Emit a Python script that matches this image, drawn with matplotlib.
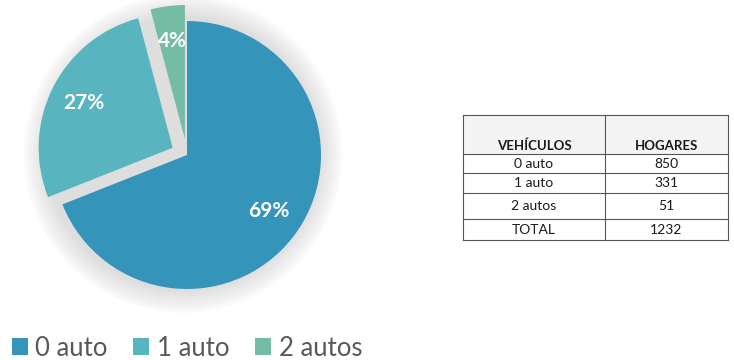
import matplotlib.pyplot as plt
from matplotlib.patches import Circle

# Households by number of vehicles
categories = ["0 auto", "1 auto", "2 autos"]
hogares = [850, 331, 51]
total = 1232
colors = ["#3594BA", "#58B4BF", "#74BDA4"]

table_header = ["VEHÍCULOS", "HOGARES"]
table_rows = [["0 auto", "850"], ["1 auto", "331"], ["2 autos", "51"], ["TOTAL", "1232"]]

plt.rcParams['font.family'] = ['Lato', 'DejaVu Sans']

W, H = 734, 360
fig = plt.figure(figsize=(W / 100, H / 100), dpi=100)

# pie axes: square box around the pie centre, radius 1 == 134 px
cx, cy, r_px, half = 187, 205, 134, 170
pax = fig.add_axes([(cx - half) / W, (cy - half) / H, 2 * half / W, 2 * half / H])
lim = half / r_px

# soft grey halo behind the pie
for k in range(10):
    pax.add_patch(Circle((-0.03, 0.01), 1.19 - 0.018 * k, color="#888888",
                         alpha=0.028, lw=0, zorder=0))

wedges, texts, autotexts = pax.pie(
    hogares, colors=colors, startangle=90, counterclock=False,
    explode=[0, 0.12, 0.12], radius=1,
    autopct=lambda p: f"{p:.0f}%", pctdistance=0.74,
    wedgeprops=dict(linewidth=0), frame=True,
    textprops=dict(color="white", fontsize=15, fontweight="bold"))
for w in wedges:
    w.set_zorder(2)
for t in autotexts:
    t.set_zorder(3)
pax.set_xlim(-lim, lim)
pax.set_ylim(-lim, lim)
pax.set_aspect("equal")
pax.axis("off")

# table on the right, pixel coordinates
ax = fig.add_axes([0, 0, 1, 1], zorder=-1)
ax.set_xlim(0, W)
ax.set_ylim(0, H)
ax.axis("off")

tab_l, tab_r, tab_mid = 463, 728, 605
row_lines = [245, 206, 187, 167, 141, 120]
ax.add_patch(plt.Rectangle((tab_l, row_lines[1]), tab_r - tab_l, row_lines[0] - row_lines[1],
                           facecolor="#f4f4f4", edgecolor="none", zorder=1))
for y in row_lines:
    ax.plot([tab_l, tab_r], [y, y], color="#555555", lw=0.8, zorder=2)
for x in [tab_l, tab_mid, tab_r]:
    ax.plot([x, x], [row_lines[-1], row_lines[0]], color="#555555", lw=0.8, zorder=2)

col_x = [(tab_l + tab_mid) / 2, (tab_mid + tab_r) / 2]
for j, h in enumerate(table_header):
    ax.text(col_x[j], row_lines[1] + 8, h, ha="center", va="center",
            fontsize=9.5, fontweight="bold", color="#1a1a1a")
for i, row in enumerate(table_rows):
    yc = (row_lines[i + 1] + row_lines[i + 2]) / 2
    for j, val in enumerate(row):
        ax.text(col_x[j], yc, val, ha="center", va="center", fontsize=10, color="#1a1a1a")

fig.legend(wedges, categories, loc="lower left", bbox_to_anchor=(-0.005, -0.045), ncol=3,
           frameon=False, fontsize=18.5, handlelength=0.62, handleheight=0.62,
           handletextpad=0.3, columnspacing=1.0, labelcolor="#595959",
           borderaxespad=0.2)

fig.savefig("out.png", dpi=100)
